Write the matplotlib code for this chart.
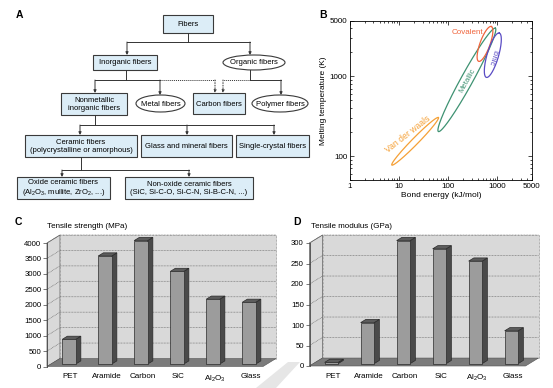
import numpy as np
import matplotlib
matplotlib.use('Agg')
import matplotlib.pyplot as plt
from matplotlib.patches import Polygon, Rectangle, Ellipse
from matplotlib.ticker import FixedLocator, FixedFormatter, LogLocator, NullFormatter

plt.rcParams['font.family'] = ['Liberation Sans', 'DejaVu Sans']
plt.rcParams['mathtext.fontset'] = 'custom'
plt.rcParams['mathtext.rm'] = 'Liberation Sans'
plt.rcParams['mathtext.it'] = 'Liberation Sans:italic'
plt.rcParams['mathtext.default'] = 'regular'

W, H = 553, 388

# ---- panel A: fibre classification
node_text = ['Fibers', 'Inorganic fibers', 'Organic fibers',
             'Nonmetallic\ninorganic fibers', 'Metal fibers', 'Carbon fibers',
             'Polymer fibers',
             'Ceramic fibers\n(polycrystalline or amorphous)',
             'Glass and mineral fibers', 'Single-crystal fibers',
             'Oxide ceramic fibers\n(Al$_2$O$_3$, mullite, ZrO$_2$, ...)',
             'Non-oxide ceramic fibers\n(SiC, Si-C-O, Si-C-N, Si-B-C-N, ...)']
node_oval = [False, False, True, False, True, False, True,
             False, False, False, False, False]
# layout in pixels (x0, y0, x1, y1)
node_pos = [(163, 15, 213, 33), (93, 55, 157, 70), (223, 55, 285, 70),
            (61, 93, 127, 115), (136, 95, 185, 112), (193, 93, 245, 114),
            (252, 95, 308, 112),
            (25, 135, 137, 157), (141, 135, 232, 157), (236, 135, 309, 157),
            (17, 177, 110, 199), (125, 177, 253, 199)]

# ---- panel B: bond type regions (bond energy kJ/mol, melting T K)
bond_names = ['Van der waals', 'Metallic', 'Covalent', 'Ionic']
bond_lo = [(7.1, 77), (63, 203), (416, 1545), (597, 971)]
bond_hi = [(63, 304), (910, 4030), (754, 4230), (1094, 3500)]
bond_colors = ['#f5a036', '#3e9272', '#f0643c', '#5a4cc4']
bond_width_px = [6.5, 12, 10, 11.5]

# ---- panels C, D
fibers = ['PET', 'Aramide', 'Carbon', 'SiC', 'Al$_2$O$_3$', 'Glass']
strength = [800, 3500, 4000, 3000, 2100, 2000]
modulus = [3, 100, 300, 280, 250, 80]
strength_ticks = list(range(0, 4001, 500))
modulus_ticks = list(range(0, 301, 50))

fig = plt.figure(figsize=(W / 100, H / 100), dpi=100)
ov = fig.add_axes([0, 0, 1, 1])
ov.set_xlim(0, W)
ov.set_ylim(H, 0)
ov.axis('off')


def px_axes(l, t, r, b):
    return fig.add_axes([l / W, 1 - b / H, (r - l) / W, (b - t) / H])


# panel A drawing
for txt, oval, (x0, y0, x1, y1) in zip(node_text, node_oval, node_pos):
    if oval:
        ov.add_patch(Ellipse(((x0 + x1) / 2, (y0 + y1) / 2), x1 - x0, y1 - y0,
                             fc='white', ec='#3a3a3a', lw=0.8))
    else:
        ov.add_patch(Rectangle((x0, y0), x1 - x0, y1 - y0,
                               fc='#dcedf7', ec='#3a3a3a', lw=0.8))
    ov.text((x0 + x1) / 2, (y0 + y1) / 2 + 0.5, txt, ha='center', va='center',
            fontsize=5.5, linespacing=1.1)

lc = '#333333'


def seg(x0, y0, x1, y1, ls='-'):
    ov.plot([x0, x1], [y0, y1], color=lc, lw=0.7, ls=ls,
            dashes=(1, 1) if ls == ':' else (None, None))


def arr(x, y0, y1, ls='-'):
    ov.annotate('', xy=(x, y1), xytext=(x, y0),
                arrowprops=dict(arrowstyle='-|>', color=lc, lw=0.7,
                                ls=ls, mutation_scale=4, shrinkA=0, shrinkB=0))


seg(188, 33, 188, 42); seg(127, 42, 250, 42)
arr(127, 42, 55); arr(250, 42, 55)
seg(126, 70, 126, 80); seg(95, 80, 160, 80)
arr(95, 80, 93); arr(160, 80, 95)
seg(160, 80, 215, 80, ':'); arr(215, 80, 93, ':')
seg(250, 70, 250, 80); seg(250, 80, 281, 80)
arr(281, 80, 95)
seg(250, 80, 223, 80, ':'); arr(223, 80, 93, ':')
seg(95, 115, 95, 125); seg(80, 125, 274, 125)
for x in (80, 187, 274):
    arr(x, 125, 135)
seg(81, 157, 81, 170); seg(62, 170, 189, 170)
for x in (62, 189):
    arr(x, 170, 177)

# panel letters and titles
for lab, x, y in [('A', 19, 15), ('B', 323, 15), ('C', 18, 222), ('D', 297, 222)]:
    ov.text(x, y, lab, fontsize=7.5, fontweight='bold', ha='center', va='center')
ov.text(47, 227, 'Tensile strength (MPa)', fontsize=5.8, va='center')
ov.text(311, 227, 'Tensile modulus (GPa)', fontsize=5.8, va='center')

# faint watermark band
ov.add_patch(Polygon([(256, 388), (288, 362), (300, 362), (276, 388)],
                     closed=True, fc='#e6e6e6', ec='none'))

# panel B
bx = px_axes(350, 20.7, 531.7, 180)
bx.set_xscale('log')
bx.set_yscale('log')
bx.set_xlim(1, 5000)
bx.set_ylim(50, 5000)
kx = (531.7 - 350) / np.log10(5000)
ky = (180 - 20.7) / np.log10(100)
t = np.linspace(0, 2 * np.pi, 300)
for lo, hi, col, wpx in zip(bond_lo, bond_hi, bond_colors, bond_width_px):
    p0 = np.array([np.log10(lo[0]) * kx, np.log10(lo[1] / 50) * ky])
    p1 = np.array([np.log10(hi[0]) * kx, np.log10(hi[1] / 50) * ky])
    c = (p0 + p1) / 2
    d = p1 - p0
    a = np.hypot(*d) / 2
    u = d / (2 * a)
    n = np.array([-u[1], u[0]])
    pts = c[:, None] + a * np.cos(t) * u[:, None] + wpx / 2 * np.sin(t) * n[:, None]
    bx.plot(10 ** (pts[0] / kx), 50 * 10 ** (pts[1] / ky), color=col, lw=0.9)


def bpx(x, y):
    # pixel position inside panel B -> data coordinates
    return 10 ** ((x - 350) / kx), 50 * 10 ** ((180 - y) / ky)


bx.text(*bpx(467, 33), bond_names[2], color=bond_colors[2], fontsize=5.8,
        ha='center', va='center')
bx.text(*bpx(467, 81), bond_names[1], color=bond_colors[1], fontsize=5.6,
        ha='center', va='center', rotation=61)
bx.text(*bpx(492, 57), bond_names[3], color=bond_colors[3], fontsize=5.6,
        ha='center', va='center', rotation=-107)
bx.text(*bpx(408, 134), bond_names[0], color=bond_colors[0], fontsize=6.2,
        ha='center', va='center', rotation=38)
bx.xaxis.set_major_locator(FixedLocator([1, 10, 100, 1000, 5000]))
bx.xaxis.set_major_formatter(FixedFormatter(['1', '10', '100', '1000', '5000']))
bx.xaxis.set_minor_locator(LogLocator(base=10, subs=np.arange(2, 10), numticks=20))
bx.xaxis.set_minor_formatter(NullFormatter())
bx.yaxis.set_major_locator(FixedLocator([100, 1000, 5000]))
bx.yaxis.set_major_formatter(FixedFormatter(['100', '1000', '5000']))
bx.yaxis.set_minor_locator(LogLocator(base=10, subs=np.arange(2, 10), numticks=20))
bx.yaxis.set_minor_formatter(NullFormatter())
bx.tick_params(which='both', direction='in', top=True, right=True,
               width=0.5, labelsize=5.8, pad=2)
bx.tick_params(which='major', length=3)
bx.tick_params(which='minor', length=1.5)
for s in bx.spines.values():
    s.set_linewidth(0.6)
bx.set_xlabel('Bond energy (kJ/mol)', fontsize=6, labelpad=1.5)
bx.set_ylabel('Melting temperature (K)', fontsize=6, labelpad=2)


def bars3d(ax, vals, ticks, ymax):
    n = len(vals)
    dx = 13 / 36
    dy = 8 / 123.5 * ymax
    ax.set_xlim(0, n)
    ax.set_ylim(0, ymax)
    wall = '#d9d9d9'
    ax.add_patch(Polygon([(0, 0), (dx, dy), (dx, ymax + dy), (0, ymax)],
                         fc=wall, ec='#555555', lw=0.5, clip_on=False, zorder=1))
    ax.add_patch(Rectangle((dx, dy), n, ymax, fc=wall, ec='#777777', lw=0.5,
                           ls=(0, (1, 1)), clip_on=False, zorder=1))
    for v in ticks[1:]:
        ax.plot([0, dx, n + dx], [v, v + dy, v + dy], color='#707070', lw=0.5,
                dashes=(1.2, 1), clip_on=False, zorder=2)
    ax.add_patch(Polygon([(0, 0), (n, 0), (n + dx, dy), (dx, dy)],
                         fc='#7b7b7b', ec='#555555', lw=0.4, clip_on=False, zorder=3))
    w = 0.375
    f0, bd = 0.3, 0.4
    for i, v in enumerate(vals):
        x0 = i + 0.5 - w / 2 + f0 * dx
        y0 = f0 * dy
        ox, oy = bd * dx, bd * dy
        kw = dict(ec='#2a2a2a', lw=0.5, clip_on=False, zorder=4)
        ax.add_patch(Polygon([(x0 + w, y0), (x0 + w + ox, y0 + oy),
                              (x0 + w + ox, y0 + v + oy), (x0 + w, y0 + v)],
                             fc='#4a4a4a', **kw))
        ax.add_patch(Polygon([(x0, y0 + v), (x0 + w, y0 + v),
                              (x0 + w + ox, y0 + v + oy), (x0 + ox, y0 + v + oy)],
                             fc='#5c5c5c', **kw))
        ax.add_patch(Rectangle((x0, y0), w, v, fc='#9c9c9c', **kw))
    for s in ['top', 'right', 'bottom']:
        ax.spines[s].set_visible(False)
    ax.spines['left'].set_linewidth(0.6)
    ax.spines['left'].set_color('#444444')
    ax.spines['left'].set_zorder(5)
    ax.set_yticks(ticks)
    ax.set_yticklabels([str(v) for v in ticks])
    ax.set_xticks(np.arange(n) + 0.65)
    ax.set_xticklabels(fibers)
    ax.tick_params(axis='y', length=3, width=0.5, color='#444444',
                   labelsize=5.6, pad=1)
    ax.tick_params(axis='x', length=0, labelsize=5.8, pad=5)
    ax.patch.set_visible(False)


cx = px_axes(47, 243, 263, 366.5)
bars3d(cx, strength, strength_ticks, 4000)
dxa = px_axes(309.5, 243, 525.5, 366)
bars3d(dxa, modulus, modulus_ticks, 300)

fig.savefig('out.png', dpi=100)
